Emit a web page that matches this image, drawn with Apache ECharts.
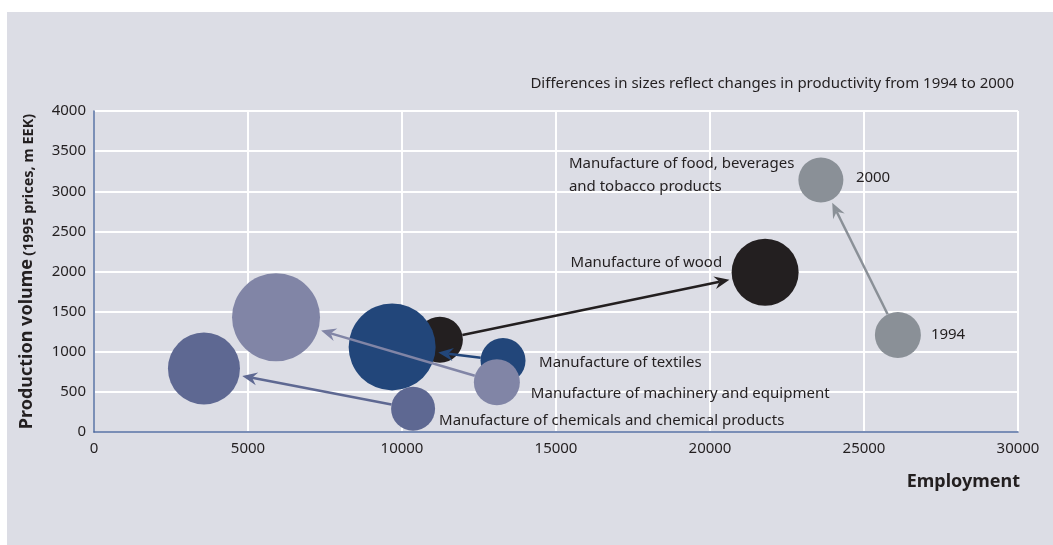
<!DOCTYPE html>
<html>
<head>
<meta charset="utf-8">
<script src="https://cdn.jsdelivr.net/npm/echarts@6/dist/echarts.min.js"></script>
<style>
body { margin: 0; background: #fff; }
#bg {
  position: absolute;
  left: 7px;
  top: 12px;
  right: 0;
  bottom: 0;
  background: #dcdde5;
}
#main {
  position: absolute;
  left: 0;
  top: 0;
  width: 1053px;
  height: 545px;
}
</style>
</head>
<body>
<div id="bg"></div>
<div id="main"></div>
<script>
// industries, employment and production volume (m EEK, 1995 prices)
const industries = ['chemicals', 'machinery', 'textiles', 'wood', 'food']
const emp1994 = [10360, 13080, 13280, 11230, 26100]
const prod1994 = [290, 620, 890, 1150, 1210]
const emp2000 = [3570, 5910, 9680, 21790, 23600]
const prod2000 = [790, 1430, 1060, 1990, 3140]
// bubble diameters
const bubble1994 = [44, 46, 45, 46, 46]
const bubble2000 = [72, 88, 87, 67, 45]
const xTicks = [0, 30000, 5000]
const yTicks = [0, 4000, 500]

const colors = ['#5e6892', '#8185a6', '#22467a', '#231f20', '#8a9097']
const font = "'Noto Sans', sans-serif"
const ink = '#231f20'

// bubbles drawn in this order so overlaps look like the original
const drawOrder = [4, 3, 0, 2, 1]
const bubbles = []
drawOrder.forEach(function (i) {
  bubbles.push({ value: [emp1994[i], prod1994[i]], symbolSize: bubble1994[i], itemStyle: { color: colors[i] } })
  bubbles.push({ value: [emp2000[i], prod2000[i]], symbolSize: bubble2000[i], itemStyle: { color: colors[i] } })
})

const arrows = industries.map(function (name, i) {
  return [emp1994[i], prod1994[i], emp2000[i], prod2000[i], bubble1994[i], bubble2000[i]]
})

function renderArrow (params, api) {
  const p1 = api.coord([api.value(0), api.value(1)])
  const p2 = api.coord([api.value(2), api.value(3)])
  const r1 = api.value(4) / 2
  const r2 = api.value(5) / 2 + 3
  const dx = p2[0] - p1[0]
  const dy = p2[1] - p1[1]
  const len = Math.sqrt(dx * dx + dy * dy)
  const ux = dx / len
  const uy = dy / len
  const nx = -uy
  const ny = ux
  const start = [p1[0] + ux * r1, p1[1] + uy * r1]
  const tip = [p2[0] - ux * r2, p2[1] - uy * r2]
  const headLen = 15
  const headHalf = 6.5
  const notch = [tip[0] - ux * 10, tip[1] - uy * 10]
  const base = [tip[0] - ux * headLen, tip[1] - uy * headLen]
  const color = colors[params.dataIndex]
  return {
    type: 'group',
    children: [
      {
        type: 'line',
        shape: { x1: start[0], y1: start[1], x2: notch[0], y2: notch[1] },
        style: { stroke: color, lineWidth: 2.5 }
      },
      {
        type: 'polygon',
        shape: {
          points: [
            tip,
            [base[0] + nx * headHalf, base[1] + ny * headHalf],
            notch,
            [base[0] - nx * headHalf, base[1] - ny * headHalf]
          ]
        },
        style: { fill: color }
      }
    ]
  }
}

const plain = function (v) { return String(v) }

const chart = echarts.init(document.getElementById('main'))
chart.setOption({
  animation: false,
  backgroundColor: 'transparent',
  title: {
    text: 'Differences in sizes reflect changes in productivity from 1994 to 2000',
    right: 39,
    top: 76,
    padding: 0,
    textStyle: { fontFamily: font, fontSize: 15, fontWeight: 'normal', color: ink }
  },
  grid: {
    left: 94,
    right: 35,
    top: 111,
    bottom: 113
  },
  xAxis: {
    type: 'value',
    min: xTicks[0],
    max: xTicks[1],
    interval: xTicks[2],
    name: 'Employment',
    nameLocation: 'end',
    nameGap: 2,
    nameTextStyle: {
      fontFamily: font,
      fontSize: 18,
      fontWeight: 'bold',
      color: ink,
      align: 'right',
      verticalAlign: 'top',
      padding: [41, 0, 0, 0]
    },
    axisLine: { lineStyle: { color: '#4f6a9e', width: 1.5 } },
    axisTick: { show: false },
    axisLabel: { fontFamily: font, fontSize: 15, color: ink, margin: 9, formatter: plain },
    splitLine: { lineStyle: { color: '#ffffff', width: 2 } }
  },
  yAxis: {
    type: 'value',
    min: yTicks[0],
    max: yTicks[1],
    interval: yTicks[2],
    name: '{a|Production volume} {b|(1995 prices, m EEK)}',
    nameLocation: 'middle',
    nameRotate: 90,
    nameGap: 58,
    nameTextStyle: {
      rich: {
        a: { fontFamily: font, fontSize: 18, fontWeight: 'bold', color: ink, verticalAlign: 'bottom' },
        b: { fontFamily: font, fontSize: 14.5, fontWeight: 'bold', color: ink, verticalAlign: 'bottom' }
      }
    },
    axisLine: { show: true, lineStyle: { color: '#4f6a9e', width: 1.5 } },
    axisTick: { show: false },
    axisLabel: { fontFamily: font, fontSize: 15, color: ink, margin: 8, formatter: plain },
    splitLine: { lineStyle: { color: '#ffffff', width: 2 } }
  },
  series: [
    {
      type: 'scatter',
      data: bubbles,
      silent: true,
      z: 2,
      itemStyle: { opacity: 1 },
      emphasis: { disabled: true }
    },
    {
      type: 'custom',
      renderItem: renderArrow,
      data: arrows,
      silent: true,
      z: 3
    }
  ]
})

// annotations placed next to the bubbles they describe
function at (x, y, dx, dy) {
  const p = chart.convertToPixel({ gridIndex: 0 }, [x, y])
  return [p[0] + dx, p[1] + dy]
}
function note (pos, text, align) {
  return {
    type: 'text',
    x: pos[0],
    y: pos[1],
    silent: true,
    z: 10,
    style: {
      text: text,
      fill: ink,
      font: '15px ' + font,
      lineHeight: 23,
      align: align,
      textAlign: align,
      verticalAlign: 'middle',
      textVerticalAlign: 'middle'
    }
  }
}
chart.setOption({
  graphic: [
    note(at(emp1994[0], prod1994[0], 26, 12), 'Manufacture of chemicals and chemical products', 'left'),
    note(at(emp1994[1], prod1994[1], 34, 11), 'Manufacture of machinery and equipment', 'left'),
    note(at(emp1994[2], prod1994[2], 36, 2), 'Manufacture of textiles', 'left'),
    note(at(emp2000[3], prod2000[3], -43, -10), 'Manufacture of wood', 'right'),
    note(at(emp2000[4], prod2000[4], -252, -5), 'Manufacture of food, beverages\nand tobacco products', 'left'),
    note(at(emp2000[4], prod2000[4], 35, -2), '2000', 'left'),
    note(at(emp1994[4], prod1994[4], 33, 0), '1994', 'left')
  ]
})
</script>
</body>
</html>
